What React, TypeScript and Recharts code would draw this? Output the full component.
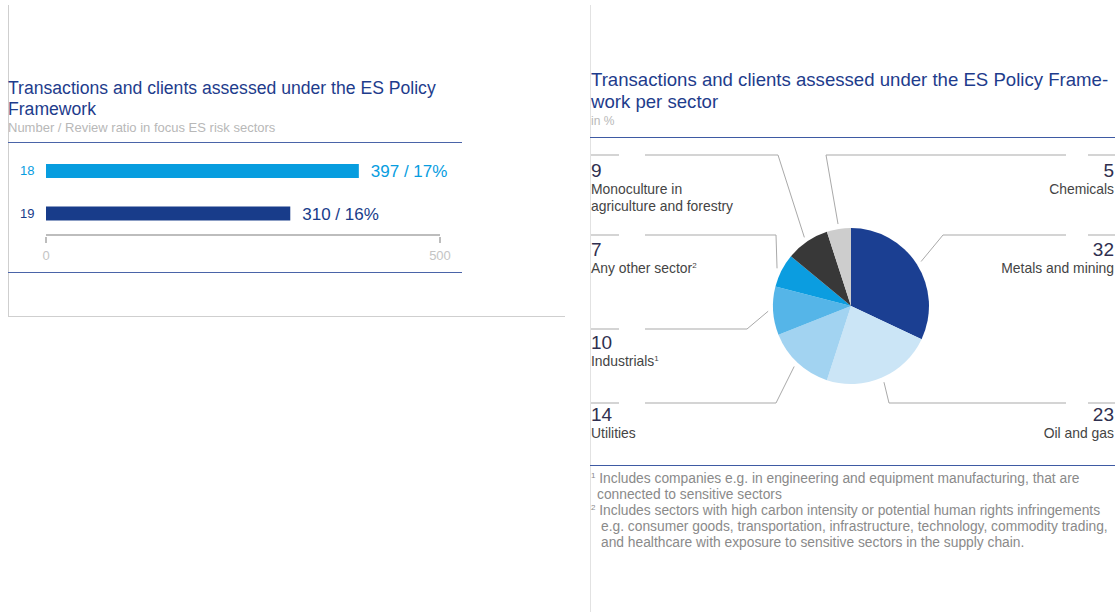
import { BarChart, Bar, XAxis, YAxis, Cell, LabelList, PieChart, Pie } from "recharts"

// --- data ---
const years = ["18", "19"]
const assessedCounts = [397, 310]
const reviewRatios = ["17%", "16%"]

const sectors = ["Metals and mining", "Oil and gas", "Utilities", "Industrials", "Any other sector", "Monoculture in agriculture and forestry", "Chemicals"]
const sectorShares = [32, 23, 14, 10, 7, 9, 5]
const sectorNotes = ["", "", "", "1", "2", "", ""]

// --- styles ---
const FONT = "'Liberation Sans', Arial, sans-serif"
const NAVY = "#1e3c8c"
const BAR_COLORS = ["#079ddf", "#183c8a"]
const PIE_COLORS = ["#1b3f92", "#cbe5f6", "#a2d3f1", "#55b5e8", "#0b9de0", "#383838", "#cdcdcd"]
const LEAD = "#a9a9a9"

// label layout for the pie (page coords): side, row line y, elbow x, text top
const LAYOUT = [
  { side: "right", lineY: 235, elbowX: 943, top: 240 },
  { side: "right", lineY: 403, elbowX: 889, top: 405 },
  { side: "left", lineY: 403, elbowX: 776, top: 405 },
  { side: "left", lineY: 329, elbowX: 747, top: 333 },
  { side: "left", lineY: 235, elbowX: 776, top: 240 },
  { side: "left", lineY: 155, elbowX: 778, top: 161 },
  { side: "right", lineY: 155, elbowX: 826, top: 161 },
]

const PIE_LEFT = 590
const PIE_TOP = 140
const RAD = Math.PI / 180

const barData = years.map((y, i) => ({ year: y, value: assessedCounts[i], label: `${assessedCounts[i]} / ${reviewRatios[i]}` }))
const pieData = sectors.map((s, i) => ({ name: s, value: sectorShares[i] }))

const Sup = ({ n }: { n: string }) => (
  <span style={{ fontSize: 8, position: "relative", top: -5, lineHeight: 0 }}>{n}</span>
)

const YearTick = ({ y, payload, index }: any) => (
  <text x={20} y={y} dy={4} fontSize={13} fill={BAR_COLORS[index]} fontFamily={FONT}>{payload.value}</text>
)

const ValueTick = ({ x, y, payload }: any) => (
  <g>
    <line x1={x} x2={x} y1={y} y2={y - 6} stroke="#bdbdbd" strokeWidth={2} />
    <text x={x} y={y + 17} textAnchor="middle" fontSize={13} fill="#c4c4c4" fontFamily={FONT}>{payload.value}</text>
  </g>
)

const BarValue = ({ x, y, width, height, value, index }: any) => (
  <text x={x + width + 12} y={y + height / 2} dy={6} fontSize={17} fill={BAR_COLORS[index]} fontFamily={FONT}>{value}</text>
)

const renderLeader = ({ cx, cy, midAngle, outerRadius, index }: any) => {
  const lay = LAYOUT[index]
  const r = outerRadius + 5
  const ex = cx + r * Math.cos(-midAngle * RAD)
  const ey = cy + r * Math.sin(-midAngle * RAD)
  const ly = lay.lineY - PIE_TOP
  const bx = lay.elbowX - PIE_LEFT
  const segs = lay.side === "left"
    ? [[1, 29], [55, bx]]
    : [[bx, 476], [498, 525]]
  return (
    <g key={index}>
      <line x1={ex} y1={ey} x2={bx} y2={ly} stroke={LEAD} strokeWidth={1} />
      {segs.map(([a, b], k) => <line key={k} x1={a} x2={b} y1={ly} y2={ly} stroke={LEAD} strokeWidth={1} />)}
    </g>
  )
}

export default function App() {
  return (
    <div style={{ position: "absolute", left: 0, top: 0, width: 1120, height: 612, background: "#fff", fontFamily: FONT, overflow: "hidden" }}>
      {/* left panel frame */}
      <div style={{ position: "absolute", left: 8, top: 5, width: 1, height: 311, background: "#cfcfcf" }} />
      <div style={{ position: "absolute", left: 8, top: 316, width: 557, height: 1, background: "#cfcfcf" }} />
      <div style={{ position: "absolute", left: 8, top: 78, fontSize: 17.6, lineHeight: "21px", color: NAVY, whiteSpace: "nowrap" }}>
        Transactions and clients assessed under the ES Policy<br />Framework
      </div>
      <div style={{ position: "absolute", left: 8, top: 120, fontSize: 13, color: "#b8b8b8", whiteSpace: "nowrap" }}>
        Number / Review ratio in focus ES risk sectors
      </div>
      <div style={{ position: "absolute", left: 8, top: 142, width: 454, height: 1, background: "#4a64a8" }} />
      <div style={{ position: "absolute", left: 8, top: 272, width: 454, height: 1, background: "#4a64a8" }} />

      <div style={{ position: "absolute", left: 0, top: 150 }}>
        <BarChart width={480} height={115} data={barData} layout="vertical" margin={{ top: 0, right: 40, bottom: 0, left: 0 }}>
          <XAxis type="number" domain={[0, 500]} ticks={[0, 500]} height={30} stroke="#bdbdbd" strokeWidth={2} tickLine={false} tick={<ValueTick />} />
          <YAxis type="category" dataKey="year" width={46} axisLine={false} tickLine={false} tick={<YearTick />} />
          <Bar dataKey="value" barSize={14} isAnimationActive={false}>
            {barData.map((_, i) => <Cell key={i} fill={BAR_COLORS[i]} />)}
            <LabelList dataKey="label" content={<BarValue />} />
          </Bar>
        </BarChart>
      </div>

      {/* right panel */}
      <div style={{ position: "absolute", left: 590, top: 5, width: 1, height: 607, background: "#e2e2e2" }} />
      <div style={{ position: "absolute", left: 591, top: 69, fontSize: 18.6, lineHeight: "22px", color: NAVY, whiteSpace: "nowrap" }}>
        Transactions and clients assessed under the ES Policy Frame-<br />work per sector
      </div>
      <div style={{ position: "absolute", left: 591, top: 114, fontSize: 12, color: "#b8b8b8" }}>in %</div>
      <div style={{ position: "absolute", left: 590, top: 137, width: 525, height: 1, background: "#3e5aa3" }} />

      <div style={{ position: "absolute", left: PIE_LEFT, top: PIE_TOP }}>
        <PieChart width={530} height={310} margin={{ top: 0, right: 0, bottom: 0, left: 0 }}>
          <Pie data={pieData} dataKey="value" nameKey="name" cx={261} cy={166} outerRadius={78}
            startAngle={90} endAngle={-270} stroke="none" label={renderLeader} labelLine={false} isAnimationActive={false}>
            {pieData.map((_, i) => <Cell key={i} fill={PIE_COLORS[i]} />)}
          </Pie>
        </PieChart>
      </div>

      {sectors.map((s, i) => {
        const lay = LAYOUT[i]
        const left = lay.side === "left"
        const name = s === "Monoculture in agriculture and forestry" ? <>Monoculture in<br />agriculture and forestry</> : s
        return (
          <div key={s} style={{ position: "absolute", top: lay.top, ...(left ? { left: 591 } : { right: 6 }), textAlign: left ? "left" : "right", whiteSpace: "nowrap" }}>
            <div style={{ fontSize: 19, lineHeight: "20px", color: "#2f2f4f" }}>{sectorShares[i]}</div>
            <div style={{ fontSize: 13.9, lineHeight: "17px", color: "#444" }}>
              {name}{sectorNotes[i] && <Sup n={sectorNotes[i]} />}
            </div>
          </div>
        )
      })}

      <div style={{ position: "absolute", left: 590, top: 465, width: 525, height: 1, background: "#3e5aa3" }} />
      <div style={{ position: "absolute", left: 591, top: 471, fontSize: 13.8, lineHeight: "16px", color: "#8a8a8a", whiteSpace: "nowrap" }}>
        <div><Sup n="1" /> Includes companies e.g. in engineering and equipment manufacturing, that are</div>
        <div style={{ paddingLeft: 6 }}>connected to sensitive sectors</div>
        <div><Sup n="2" /> Includes sectors with high carbon intensity or potential human rights infringements</div>
        <div style={{ paddingLeft: 10 }}>e.g. consumer goods, transportation, infrastructure, technology, commodity trading,</div>
        <div style={{ paddingLeft: 10 }}>and healthcare with exposure to sensitive  sectors in the supply chain.</div>
      </div>
    </div>
  )
}
